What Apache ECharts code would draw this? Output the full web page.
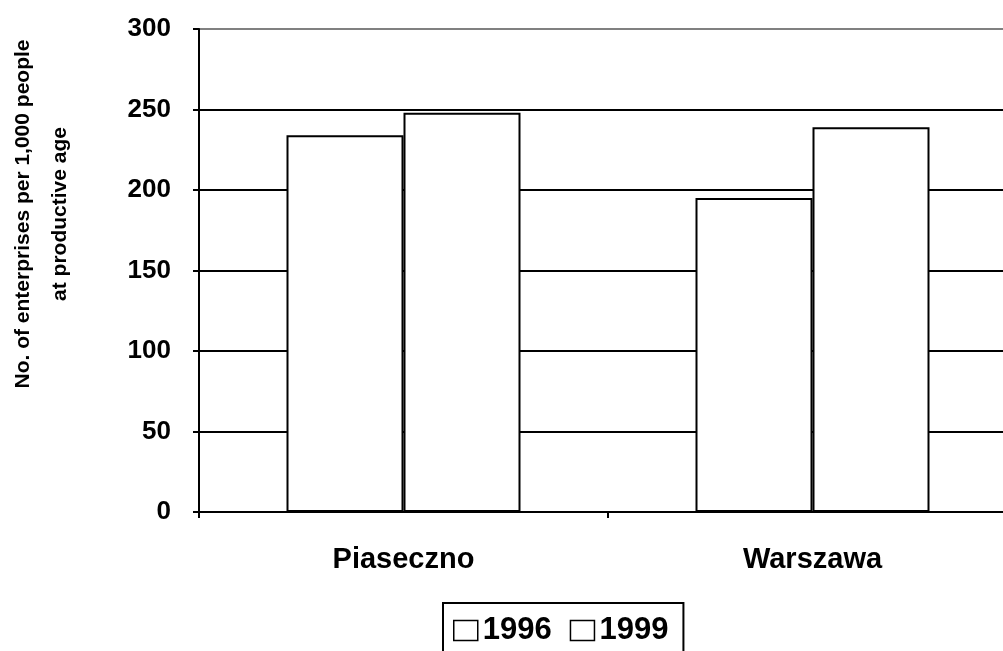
<!DOCTYPE html>
<html>
<head>
<meta charset="utf-8">
<script src="https://cdn.jsdelivr.net/npm/echarts@6/dist/echarts.min.js"></script>
<style>
html,body{margin:0;padding:0;background:#fff;overflow:hidden;width:1003px;height:651px;}
#chart{width:1017px;height:651px;}
</style>
</head>
<body>
<div id="chart"></div>
<script>
const categories = ['Piaseczno', 'Warszawa'];
const series1996 = [234, 195];
const series1999 = [248, 239];
const seriesNames = ['1996', '1999'];
const yTitleLines = ['No. of enterprises per 1,000 people', 'at productive age'];

const FONT = '"Liberation Sans", Arial, sans-serif';
const chart = echarts.init(document.getElementById('chart'), null, {renderer: 'canvas'});

const barStyle = {color: '#ffffff', borderColor: '#000000', borderWidth: 2};

chart.setOption({
  backgroundColor: '#ffffff',
  animation: false,
  grid: {left: 199, top: 29, right: 0, bottom: 139, containLabel: false},
  legend: {
    data: seriesNames,
    top: 603,
    left: 443,
    orient: 'horizontal',
    icon: 'rect',
    itemWidth: 24,
    itemHeight: 20,
    itemGap: 18,
    padding: [12, 15, 40, 10],
    borderColor: '#000000',
    borderWidth: 2,
    textStyle: {fontFamily: FONT, fontWeight: 'bold', fontSize: 31, color: '#000'},
    itemStyle: {color: '#ffffff', borderColor: '#000000', borderWidth: 1.5}
  },
  xAxis: {
    type: 'category',
    data: categories,
    axisLine: {show: true, lineStyle: {color: '#000', width: 2}},
    axisTick: {show: true, length: 6, alignWithLabel: false, lineStyle: {color: '#000', width: 2}},
    axisLabel: {fontFamily: FONT, fontWeight: 'bold', fontSize: 29, color: '#000', margin: 33},
    splitLine: {show: false}
  },
  yAxis: {
    type: 'value',
    min: 0,
    max: 300,
    interval: 50,
    axisLine: {show: true, lineStyle: {color: '#000', width: 2}},
    axisTick: {show: true, length: 6, lineStyle: {color: '#000', width: 2}},
    axisLabel: {fontFamily: FONT, fontWeight: 'bold', fontSize: 26, color: '#000', margin: 28},
    splitLine: {show: true, lineStyle: {color: ['#000', '#000', '#000', '#000', '#000', '#000', '#808080'], width: 2}}
  },
  graphic: [{
    type: 'text',
    x: 42,
    y: 214,
    rotation: Math.PI / 2,
    style: {
      text: yTitleLines.join('\n'),
      fontFamily: FONT,
      fontWeight: 'bold',
      fontSize: 21,
      lineHeight: 37,
      fill: '#000',
      align: 'center',
      verticalAlign: 'middle'
    }
  }],
  series: [
    {name: seriesNames[0], type: 'bar', data: series1996, barWidth: 117, barGap: 0, itemStyle: barStyle},
    {name: seriesNames[1], type: 'bar', data: series1999, barWidth: 117, barGap: 0, itemStyle: barStyle}
  ]
});
</script>
</body>
</html>
